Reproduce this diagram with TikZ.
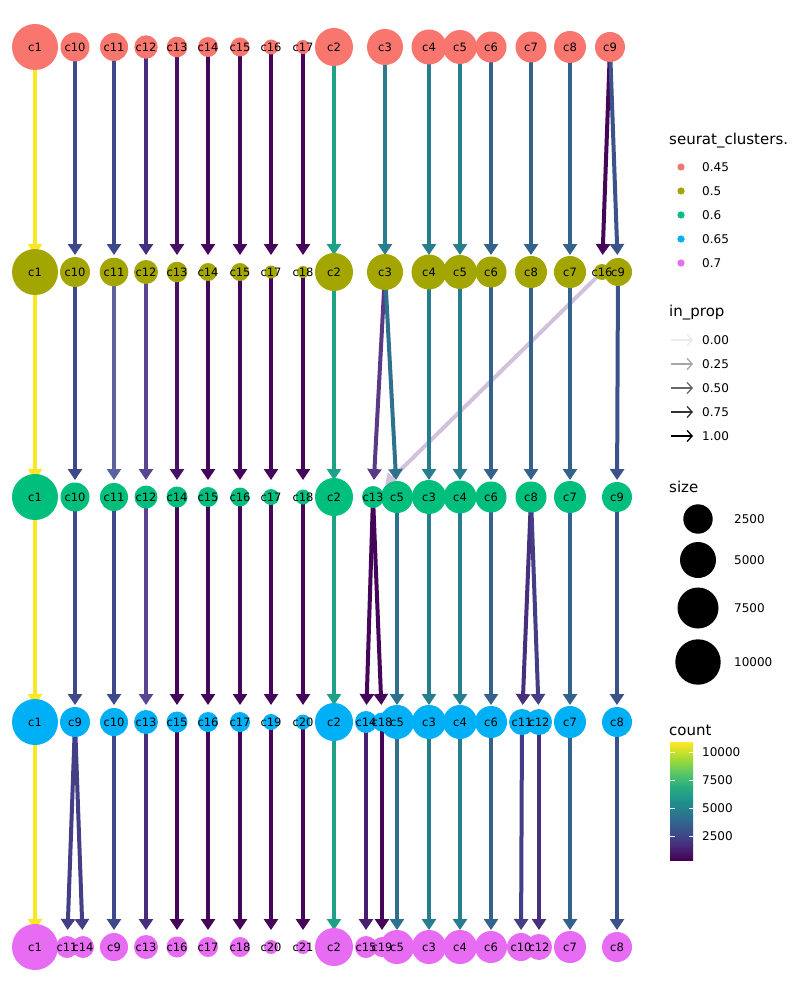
\documentclass[tikz,border=0pt]{standalone}
\usepackage{fontspec}
\setmainfont{DejaVu Sans}
\usetikzlibrary{arrows.meta,backgrounds}
\definecolor{cA}{HTML}{F8766D}
\definecolor{cB}{HTML}{A3A500}
\definecolor{cC}{HTML}{00BF7D}
\definecolor{cD}{HTML}{00B0F6}
\definecolor{cE}{HTML}{E76BF3}
\definecolor{vY}{HTML}{FDE725}
\definecolor{vTb}{HTML}{1FA187}
\definecolor{vTc}{HTML}{287D8E}
\definecolor{vTd}{HTML}{2D718E}
\definecolor{vBf}{HTML}{33638D}
\definecolor{vBi}{HTML}{3B528B}
\definecolor{vBj}{HTML}{3F4889}
\definecolor{vBk}{HTML}{433E85}
\definecolor{vPl}{HTML}{472F7D}
\definecolor{vPm}{HTML}{481F70}
\definecolor{vPn}{HTML}{471164}
\definecolor{vD}{HTML}{450559}
\definecolor{vLa}{HTML}{5A62A0}
\definecolor{vLb}{HTML}{5B4590}
\definecolor{vLc}{HTML}{5A3A86}
\definecolor{vLd}{HTML}{D0C2DC}
\definecolor{vza}{HTML}{440154}
\definecolor{vzb}{HTML}{472D7B}
\definecolor{vzc}{HTML}{3B528B}
\definecolor{vzd}{HTML}{2C728E}
\definecolor{vze}{HTML}{21908C}
\definecolor{vzf}{HTML}{27AD81}
\definecolor{vzg}{HTML}{5DC863}
\definecolor{vzh}{HTML}{AADC32}
\definecolor{vzi}{HTML}{FDE725}
\def\rowA{1/35/23, 10/75/14.5, 11/114/14, 12/146/11.7, 13/177/10.3, 14/208/10, 15/240/9.5, 16/271/7.5, 17/303/7, 2/334/19, 3/385/18, 4/429/17.5, 5/460/17, 6/491/15.5, 7/531/15.5, 8/570/16, 9/610/15}
\def\rowB{1/35/23, 10/75/15, 11/114/14.3, 12/146/12, 13/177/10.3, 14/208/9, 15/240/9, 17/271/6.5, 18/303/6, 2/334/19, 3/385/18, 4/429/17.5, 5/460/17, 6/491/15.5, 8/531/16, 7/570/16, 16/602/8, 9/618/14}
\def\rowC{1/35/23, 10/75/14.5, 11/114/14, 12/146/11.5, 14/177/10.5, 15/208/10, 16/240/9.5, 17/271/8, 18/303/7.5, 2/334/19, 13/373/11, 5/397/16, 3/429/17, 4/460/16.5, 6/491/15.5, 8/531/15.5, 7/570/16, 9/617/15}
\def\rowD{1/35/23, 9/75/15, 10/114/14, 13/146/12, 15/177/10.5, 16/208/10, 17/240/10, 19/271/8, 20/303/7.5, 2/334/19, 14/366/11, 18/382/9.5, 5/397/17, 3/429/17, 4/460/17, 6/491/16, 11/522/13, 12/539/13, 7/570/16, 8/617/15}
\def\rowE{1/35/23, 11/67/11, 14/83/11, 9/114/14, 13/146/12, 16/177/10.5, 17/208/10, 18/240/10, 20/271/7, 21/303/7, 2/334/19, 15/366/11, 19/382/10, 5/397/17, 3/429/17, 4/460/17, 6/491/16, 10/521/14, 12/539/13, 7/570/16, 8/617/15}
\begin{document}
\begin{tikzpicture}[x=1pt,y=-1pt,
  clu/.style={circle,inner sep=0pt,draw=none},
  lab/.style={font=\fontsize{11.5}{13}\selectfont,inner sep=0pt},
  edge/.style={line width=4pt,-{Triangle[width=14pt,length=11pt]},shorten >=17pt},
  ttl/.style={font=\fontsize{15}{17}\selectfont,anchor=west,inner sep=0pt},
  leg/.style={font=\fontsize{12}{14}\selectfont,anchor=west,inner sep=0pt},
  legarr/.style={line width=1.3pt,-{Straight Barb[length=5pt,width=11pt]}}]
\useasboundingbox (0,0) rectangle (800,1000);
% cluster circles
\foreach \n/\x/\r in \rowA {\node[clu,fill=cA,minimum size=2*\r pt] (A\n) at (\x,47) {};}
\foreach \n/\x/\r in \rowB {\node[clu,fill=cB,minimum size=2*\r pt] (B\n) at (\x,272) {};}
\foreach \n/\x/\r in \rowC {\node[clu,fill=cC,minimum size=2*\r pt] (C\n) at (\x,497) {};}
\foreach \n/\x/\r in \rowD {\node[clu,fill=cD,minimum size=2*\r pt] (D\n) at (\x,722) {};}
\foreach \n/\x/\r in \rowE {\node[clu,fill=cE,minimum size=2*\r pt] (E\n) at (\x,947) {};}
% labels
\foreach \n/\x/\r in \rowA {\node[lab] at (A\n) {c\n};}
\foreach \n/\x/\r in \rowB {\node[lab] at (B\n) {c\n};}
\foreach \n/\x/\r in \rowC {\node[lab] at (C\n) {c\n};}
\foreach \n/\x/\r in \rowD {\node[lab] at (D\n) {c\n};}
\foreach \n/\x/\r in \rowE {\node[lab] at (E\n) {c\n};}
% background and edges (behind the circles)
\begin{pgfonlayer}{background}
\fill[white] (0,0) rectangle (800,1000);
\foreach \s/\t/\c in {A1/B1/vY, A10/B10/vBj, A11/B11/vBj, A12/B12/vPl, A13/B13/vPn, A14/B14/vD, A15/B15/vD, A16/B17/vD, A17/B18/vD, A2/B2/vTb, A3/B3/vTc, A4/B4/vTc, A5/B5/vTc, A6/B6/vBf, A7/B8/vBf, A8/B7/vBf, A9/B16/vD, A9/B9/vBi,
  B1/C1/vY, B10/C10/vBj, B11/C11/vLa, B12/C12/vLb, B13/C14/vPn, B14/C15/vD, B15/C16/vD, B17/C17/vD, B18/C18/vD, B2/C2/vTb, B16/C13/vLd, B3/C13/vLc, B3/C5/vTd, B4/C3/vTc, B5/C4/vTc, B6/C6/vBf, B8/C8/vBf, B7/C7/vBf, B9/C9/vBi,
  C1/D1/vY, C10/D9/vBj, C11/D10/vBj, C12/D13/vLb, C14/D15/vD, C15/D16/vD, C16/D17/vD, C17/D19/vD, C18/D20/vD, C2/D2/vTb, C13/D14/vD, C13/D18/vD, C5/D5/vTd, C3/D3/vTc, C4/D4/vTc, C6/D6/vBf, C8/D11/vPl, C8/D12/vBk, C7/D7/vBf, C9/D8/vBi,
  D1/E1/vY, D9/E11/vBk, D9/E14/vBk, D10/E9/vBj, D13/E13/vPl, D15/E16/vD, D16/E17/vD, D17/E18/vD, D19/E20/vD, D20/E21/vD, D2/E2/vTb, D14/E15/vPm, D18/E19/vD, D5/E5/vTd, D3/E3/vTc, D4/E4/vTc, D6/E6/vBf, D11/E10/vBk, D12/E12/vPl, D7/E7/vBf, D8/E8/vBi}
  {\draw[edge,color=\c] (\s.center) -- (\t.center);}
\end{pgfonlayer}
% legend: seurat_clusters.
\node[ttl] at (669,141) {seurat\_clusters.};
\foreach \y/\c/\t in {167/cA/0.45, 191/cB/0.5, 215/cC/0.6, 239/cD/0.65, 263/cE/0.7}
  {\fill[\c] (681,\y) circle (3.6); \node[leg] at (702,\y) {\t};}
% legend: in_prop
\node[ttl] at (669,313) {in\_prop};
\foreach \y/\g/\t in {340/8/0.00, 364/35/0.25, 388/60/0.50, 412/80/0.75, 436/100/1.00}
  {\draw[legarr,color=black!\g] (671,\y) -- (693,\y); \node[leg] at (702,\y) {\t};}
% legend: size
\node[ttl] at (669,487) {size};
\foreach \y/\r/\t in {519/14.7/2500, 560/18/5000, 608/20.5/7500, 662/22.7/10000}
  {\fill[black] (698,\y) circle (\r); \node[leg] at (734,\y) {\t};}
% legend: count
\node[ttl] at (669,730) {count};
\foreach \i/\ca/\cb in {0/vza/vzb, 1/vzb/vzc, 2/vzc/vzd, 3/vzd/vze, 4/vze/vzf, 5/vzf/vzg, 6/vzg/vzh, 7/vzh/vzi}
  {\shade[bottom color=\ca, top color=\cb] (670,{860-\i*14.625}) rectangle (693,{860-(\i+1)*14.625-0.3});}
\foreach \y/\t in {752/10000, 780/7500, 808/5000, 836/2500}
  {\draw[white,line width=0.8pt] (670,\y) -- (674.5,\y) (688.5,\y) -- (693,\y); \node[leg] at (702,\y) {\t};}
\end{tikzpicture}
\end{document}
